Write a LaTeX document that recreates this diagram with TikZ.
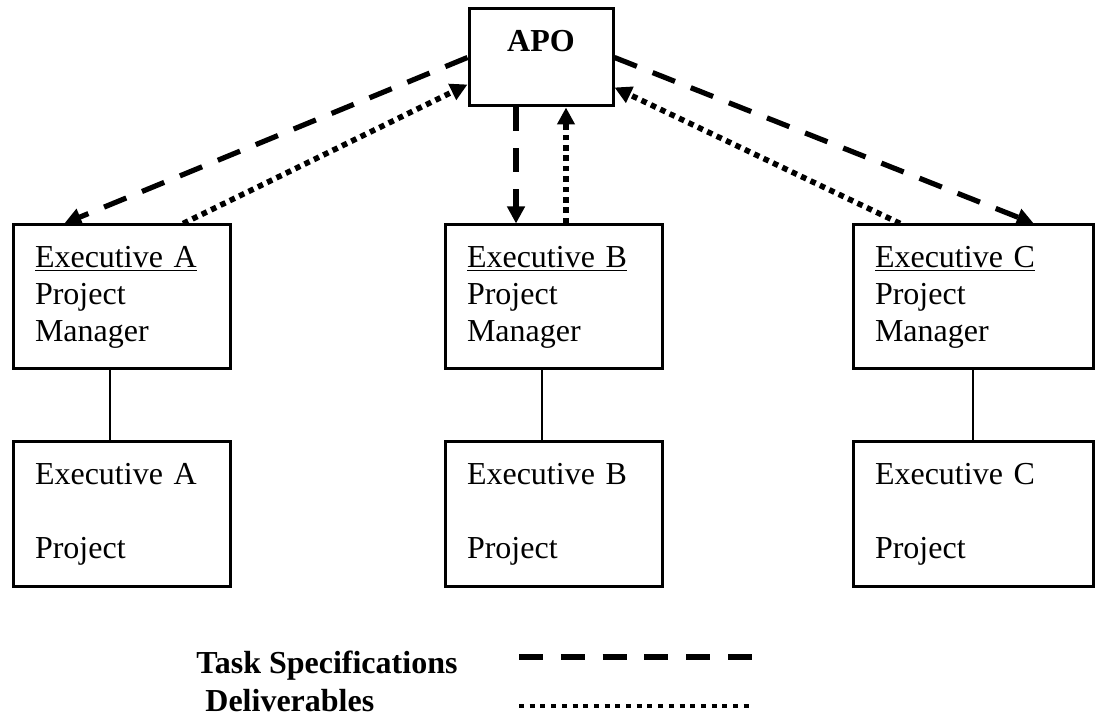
\documentclass[tikz,border=0pt]{standalone}
\usepackage{fontspec}
\setmainfont{Liberation Serif}
\usetikzlibrary{arrows.meta,calc}

\begin{document}
\begin{tikzpicture}[x=0.5pt,y=-0.5pt]
\tikzstyle{every node}+=[inner sep=0pt, font=\fontsize{16}{18.5}\selectfont]
\tikzstyle{box}=[draw=black, line width=1.5pt, inner xsep=11pt, align=left, minimum height=72pt]
\tikzstyle{task}=[black, line width=2.6pt, dash pattern=on 12pt off 8.5pt]
\tikzstyle{deliv}=[black, line width=2.8pt, dash pattern=on 2.8pt off 2.4pt]
\tikzstyle{arrowtip}=[-{Triangle[length=8.5pt,width=8.5pt]}]
\tikzstyle{link}=[black, line width=0.75pt]
\useasboundingbox (0,0) rectangle (1096,715);
\node [draw=black, line width=1.5pt, minimum width=72pt, minimum height=48.5pt] (apo) at (541,57.5) {};
\node [anchor=base, font=\fontsize{16}{18.5}\selectfont\bfseries] (apolabel) at (541,52) {APO};
\node [box, text width=86.5pt] (pmA) at (121.5,297) {\underline{Executive A}\\Project\\Manager};
\node [box, text width=86.5pt] (pmB) at (553.5,297) {\underline{Executive B}\\Project\\Manager};
\node [box, text width=98pt] (pmC) at (973,297) {\underline{Executive C}\\Project\\Manager};
\node [box, text width=86.5pt] (prA) at (121.5,514) {Executive A\\[18.5pt]Project};
\node [box, text width=86.5pt] (prB) at (553.5,514) {Executive B\\[18.5pt]Project};
\node [box, text width=98pt] (prC) at (973,514) {Executive C\\[18.5pt]Project};
\coordinate (linkA) at ($(pmA.south west)!0.447!(pmA.south east)$);
\coordinate (linkB) at ($(pmB.south west)!0.447!(pmB.south east)$);
\draw [link] (linkA) -- (linkA |- prA.north);
\draw [link] (linkB) -- (linkB |- prB.north);
\draw [link] (pmC.south) -- (prC.north);
\draw [task, arrowtip] (apo.west) -- ($(pmA.north west)!0.24!(pmA.north east)$);
\draw [deliv, arrowtip] ($(pmA.north west)!0.78!(pmA.north east)$) -- ($(apo.north west)!0.77!(apo.south west)$);
\coordinate (apoS1) at ($(apo.south west)!0.33!(apo.south east)$);
\coordinate (apoS2) at ($(apo.south west)!0.67!(apo.south east)$);
\draw [task, arrowtip] (apoS1) -- (apoS1 |- pmB.north);
\draw [deliv, arrowtip] (apoS2 |- pmB.north) -- (apoS2);
\draw [task, arrowtip] (apo.east) -- ($(pmC.north west)!0.75!(pmC.north east)$);
\draw [deliv, arrowtip] ($(pmC.north west)!0.2!(pmC.north east)$) -- ($(apo.north east)!0.8!(apo.south east)$);
\node [anchor=base west, font=\fontsize{16}{18.5}\selectfont\bfseries] (tasklabel) at (196,673) {Task Specifications};
\node [anchor=base west, font=\fontsize{16}{18.5}\selectfont\bfseries] (delivlabel) at (205,711) {Deliverables};
\coordinate (taskkey) at (519,657);
\coordinate (delivkey) at (519,706);
\draw [task, dash pattern=on 12pt off 8.9pt] (taskkey) -- ++(233,0);
\draw [deliv, line width=2.2pt, dash pattern=on 2.5pt off 2.85pt] (delivkey) -- ++(233,0);
\end{tikzpicture}
\end{document}
